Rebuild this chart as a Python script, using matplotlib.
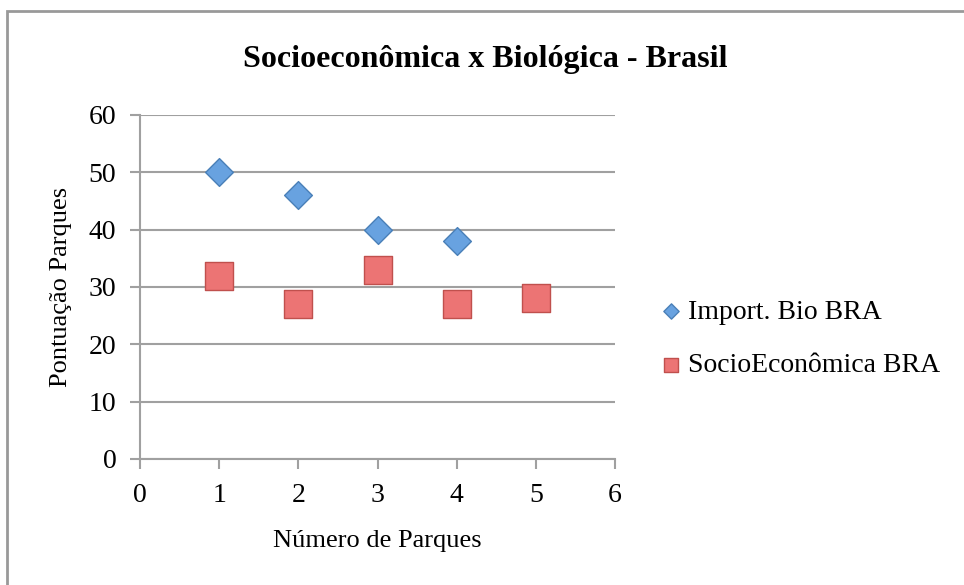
import matplotlib.pyplot as plt
from matplotlib.patches import Rectangle

bio_x = [1, 2, 3, 4]
bio_y = [50, 46, 40, 38]
socio_x = [1, 2, 3, 4, 5]
socio_y = [32, 27, 33, 27, 28]
x_ticks = [0, 1, 2, 3, 4, 5, 6]
y_ticks = [0, 10, 20, 30, 40, 50, 60]

plt.rcParams['font.family'] = ['Liberation Serif', 'DejaVu Serif']

fig = plt.figure(figsize=(9.64, 5.85), dpi=100)
ax = fig.add_axes([140 / 964, 1 - 459 / 585, 475 / 964, 344 / 585])

# chart frame: only top/left edges fall inside the image
fig.patches.append(Rectangle((6.5 / 964, -0.1), 1.2, 1.1 - 11.5 / 585,
                             transform=fig.transFigure, fill=False,
                             edgecolor='#999999', linewidth=2))

ax.scatter(bio_x, bio_y, marker='D', s=200, color='#68a2e0',
           edgecolor='#4a80b8', linewidth=1, zorder=3, label='Import. Bio BRA')
ax.scatter(socio_x, socio_y, marker='s', s=380, color='#ec7474',
           edgecolor='#c0504d', linewidth=1, zorder=3, label='SocioEconômica BRA')

ax.set_xlim(0, 6)
ax.set_ylim(0, 60)
ax.set_xticks(x_ticks)
ax.set_yticks(y_ticks)
ax.tick_params(labelsize=20, colors='#a0a0a0', labelcolor='black',
               length=7, width=1.5, direction='out')
ax.tick_params(axis='x', pad=10)
ax.tick_params(axis='y', pad=10)
ax.grid(axis='y', color='#a0a0a0', linewidth=1.5)
ax.set_axisbelow(True)
for side in ['top', 'right']:
    ax.spines[side].set_visible(False)
for side in ['left', 'bottom']:
    ax.spines[side].set_color('#a0a0a0')
    ax.spines[side].set_linewidth(1.5)

ax.set_xlabel('Número de Parques', fontsize=19, labelpad=16)
ax.set_ylabel('Pontuação Parques', fontsize=19, labelpad=12)
fig.text(485 / 964, 1 - 60 / 585, 'Socioeconômica x Biológica - Brasil',
         fontsize=23, fontweight='bold', ha='center', va='center')

ax.legend(loc='center left', bbox_to_anchor=(1.06, 0.35), frameon=False,
          fontsize=20, handletextpad=0.0, labelspacing=1.0, handlelength=1.2,
          markerscale=0.55, borderaxespad=0)

fig.savefig('out.png', dpi=100)
